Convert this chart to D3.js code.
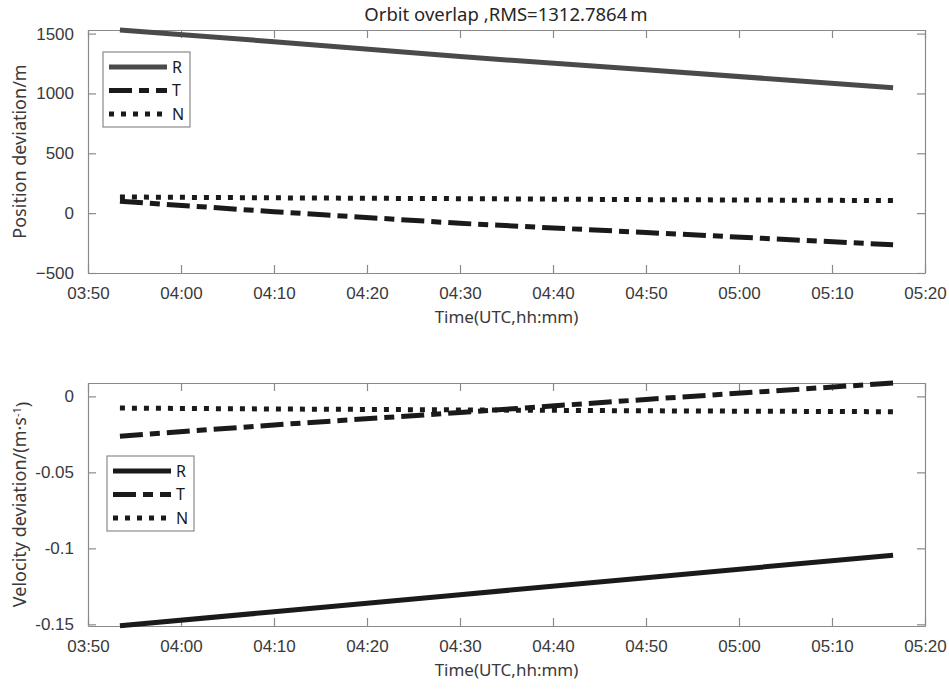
<!DOCTYPE html>
<html>
<head>
<meta charset="utf-8">
<script src="https://cdn.jsdelivr.net/npm/d3@7"></script>
<style>
  body { margin: 0; background: #fff; }
  svg { font-family: "Noto Sans", sans-serif; }
</style>
</head>
<body>
<div id="chart"></div>
<script>
// sample epochs (UTC)
const times = ["03:53:26", "04:10:00", "04:30:00", "04:50:00", "05:16:34"];

// position deviation, m
const posR = [1530, 1432, 1308, 1197, 1048];
const posT = [100, 12, -85, -162, -264];
const posN = [135, 128, 121, 113, 105];

// velocity deviation, m/s
const velR = [-0.151, -0.1417, -0.1305, -0.1193, -0.1045];
const velT = [-0.0262, -0.0188, -0.0106, -0.002, 0.0088];
const velN = [-0.0077, -0.0083, -0.0089, -0.0095, -0.0101];

const posTicks = [-500, 0, 500, 1000, 1500];
const velTicks = [-0.15, -0.1, -0.05, 0];
const seriesNames = ["R", "T", "N"];

const width = 949, height = 689;
const parse = d3.utcParse("%Y-%m-%d %H:%M:%S");
const dates = times.map(t => parse("2020-01-01 " + t));

const svg = d3.select("#chart").append("svg")
  .attr("width", width).attr("height", height);

const x = d3.scaleUtc()
  .domain([parse("2020-01-01 03:50:00"), parse("2020-01-01 05:20:00")])
  .range([88, 925]);

const dashes = { R: null, T: "23,7,10,7", N: "5,7" };

function panel(top, bottom, yDomain, yTicks, yFmt, series, colors, ylabel, legendBox) {
  const y = d3.scaleLinear().domain(yDomain).range([bottom, top]);
  const g = svg.append("g");

  const xTicks = d3.utcMinute.every(10).range(x.domain()[0], new Date(+x.domain()[1] + 1));

  // box axes with inward ticks
  g.append("g").attr("class", "ax")
    .attr("transform", `translate(0,${bottom})`)
    .call(d3.axisBottom(x).tickValues(xTicks).tickFormat(d3.utcFormat("%H:%M"))
      .tickSizeInner(-8).tickSizeOuter(0).tickPadding(14));
  g.append("g").attr("class", "ax")
    .attr("transform", `translate(0,${top})`)
    .call(d3.axisTop(x).tickValues(xTicks).tickFormat("").tickSizeInner(-8).tickSizeOuter(0));
  g.append("g").attr("class", "ax")
    .attr("transform", `translate(${x.range()[0]},0)`)
    .call(d3.axisLeft(y).tickValues(yTicks).tickFormat(yFmt)
      .tickSizeInner(-8).tickSizeOuter(0).tickPadding(14));
  g.append("g").attr("class", "ax")
    .attr("transform", `translate(${x.range()[1]},0)`)
    .call(d3.axisRight(y).tickValues(yTicks).tickFormat("").tickSizeInner(-8).tickSizeOuter(0));

  g.selectAll(".ax path").attr("stroke", "#8a8a8a").attr("stroke-width", 1.2);
  g.selectAll(".ax line").attr("stroke", "#8a8a8a").attr("stroke-width", 1.2);
  g.selectAll(".ax text").attr("fill", "#3a3a3a").attr("font-size", 17);

  const clipId = "clip" + top;
  svg.append("clipPath").attr("id", clipId).append("rect")
    .attr("x", x.range()[0] - 3).attr("y", top - 3)
    .attr("width", x.range()[1] - x.range()[0] + 6).attr("height", bottom - top + 6);

  const line = d3.line().x((d, i) => x(dates[i])).y(d => y(d));
  seriesNames.forEach((name, k) => {
    g.append("path")
      .datum(series[k])
      .attr("clip-path", `url(#${clipId})`)
      .attr("d", line)
      .attr("fill", "none")
      .attr("stroke", colors[k])
      .attr("stroke-width", 5)
      .attr("stroke-dasharray", dashes[name]);
  });

  // x label
  g.append("text")
    .attr("x", (x.range()[0] + x.range()[1]) / 2)
    .attr("y", bottom + 50)
    .attr("text-anchor", "middle")
    .attr("font-size", 17)
    .attr("fill", "#3a3a3a")
    .text("Time(UTC,hh:mm)");

  // y label
  const yl = g.append("text")
    .attr("transform", `translate(26,${(top + bottom) / 2}) rotate(-90)`)
    .attr("text-anchor", "middle")
    .attr("font-size", 18)
    .attr("fill", "#3a3a3a");
  ylabel(yl);

  // legend
  const lg = g.append("g").attr("transform", `translate(${legendBox.x},${legendBox.y})`);
  lg.append("rect").attr("width", 87).attr("height", 75)
    .attr("fill", "#fff").attr("stroke", "#8a8a8a").attr("stroke-width", 1.2);
  seriesNames.forEach((name, k) => {
    const yy = 15 + k * 23.5;
    lg.append("line")
      .attr("x1", 6).attr("x2", 64).attr("y1", yy).attr("y2", yy)
      .attr("stroke", colors[k]).attr("stroke-width", 5)
      .attr("stroke-dasharray", dashes[name]);
    lg.append("text")
      .attr("x", 69).attr("y", yy).attr("dy", "0.36em")
      .attr("font-size", 16).attr("fill", "#1a1a1a")
      .text(name);
  });
}

panel(30, 273, [-500, 1530], posTicks, d3.format("d"),
  [posR, posT, posN], ["#4a4a4a", "#1a1a1a", "#1a1a1a"],
  t => t.text("Position deviation/m"),
  { x: 103, y: 52 });

panel(383, 626, [-0.1511, 0.0088], velTicks, d => d === 0 ? "0" : String(d),
  [velR, velT, velN], ["#1a1a1a", "#1a1a1a", "#1a1a1a"],
  t => {
    t.append("tspan").text("Velocity deviation/(m\u00b7s");
    t.append("tspan").attr("dy", "-0.45em").attr("font-size", 11).text("-1");
    t.append("tspan").attr("dy", "0.45em").text(")");
  },
  { x: 107, y: 456 });

// title
svg.append("text")
  .attr("x", 506).attr("y", 21)
  .attr("text-anchor", "middle")
  .attr("font-size", 18.5)
  .attr("fill", "#262626")
  .text("Orbit overlap ,RMS=1312.7864\u2009m");
</script>
</body>
</html>
